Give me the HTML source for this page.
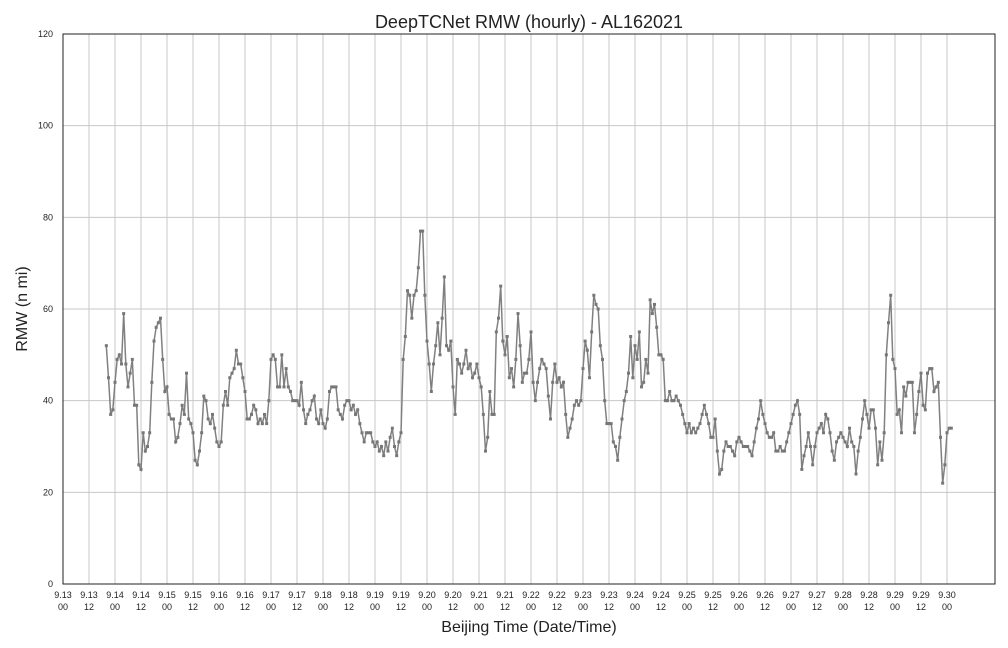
<!DOCTYPE html>
<html><head><meta charset="utf-8"><style>
html,body{margin:0;padding:0;background:#fff;}
svg{display:block;font-family:"Liberation Sans",sans-serif;}
</style></head><body>
<svg id="chart" width="1008" height="648">
<rect x="0" y="0" width="1008" height="648" fill="#fff"/>
<text x="529" y="28" font-size="18" text-anchor="middle" fill="#222">DeepTCNet RMW (hourly) - AL162021</text>
<text x="529" y="632" font-size="16" text-anchor="middle" fill="#222">Beijing Time (Date/Time)</text>
<text transform="translate(27,309) rotate(-90)" font-size="16" text-anchor="middle" fill="#222">RMW (n mi)</text>
<g id="grid"></g>
<g id="ticks"></g>
<g id="series"></g>
<rect x="63" y="34" width="932" height="550" fill="none" stroke="#222" stroke-width="1"/>
</svg>
<script>
const startHour = 20; // hours after 9.13 00:00
const rmwValues = [52,45,37,38,
44,49,50,48,59,48,43,46,49,39,39,26,
25,33,29,30,33,44,53,56,57,58,49,42,
43,37,36,36,31,32,35,39,37,46,36,35,
33,27,26,29,33,41,40,36,35,37,34,31,
30,31,39,42,39,45,46,47,51,48,48,45,
42,36,36,37,39,38,35,36,35,37,35,40,
49,50,49,43,43,50,43,47,43,42,40,40,
40,39,44,38,35,37,38,40,41,36,35,38,
35,34,36,42,43,43,43,38,37,36,39,40,
40,38,39,37,38,35,33,31,33,33,33,31,
30,31,29,30,28,31,29,32,34,30,28,31,
33,49,54,64,63,58,63,64,69,77,77,63,
53,48,42,48,52,57,50,58,67,52,51,53,
43,37,49,48,46,48,51,47,48,45,46,48,
45,43,37,29,32,42,37,37,55,58,65,53,
50,54,45,47,43,49,59,52,44,46,46,49,
55,44,40,44,47,49,48,47,41,36,44,48,
44,45,43,44,37,32,34,36,39,40,39,40,
47,53,51,45,55,63,61,60,52,49,40,35,
35,35,31,30,27,32,36,40,42,46,54,45,
52,49,55,43,44,49,46,62,59,61,56,50,
50,49,40,40,42,40,40,41,40,39,37,35,
33,35,33,34,33,34,35,37,39,37,35,32,
32,36,29,24,25,29,31,30,30,29,28,31,
32,31,30,30,30,29,28,31,34,36,40,37,
35,33,32,32,33,29,29,30,29,29,31,33,
35,37,39,40,37,25,28,30,33,30,26,30,
33,34,35,33,37,36,33,29,27,31,32,33,
32,31,30,34,31,30,24,29,32,36,40,37,
34,38,38,34,26,31,27,33,50,57,63,49,
47,37,38,33,43,41,44,44,44,33,37,42,
46,39,38,46,47,47,42,43,44,32,22,26,
33,34,34];
const yTicks = [0,20,40,60,80,100,120];
const xTickDays = [13,14,15,16,17,18,19,20,21,22,23,24,25,26,27,28,29,30];
const xTickHours = ["00","12"];

const NS="http://www.w3.org/2000/svg";
const X0=63, PXH=884/408, Y0=584, PXU=550/120;
function xs(h){return X0+h*PXH;}
function ys(v){return Y0-v*PXU;}
function mk(tag,attrs,parent){const e=document.createElementNS(NS,tag);for(const k in attrs)e.setAttribute(k,attrs[k]);parent.appendChild(e);return e;}
const grid=document.getElementById('grid'), ticks=document.getElementById('ticks'), series=document.getElementById('series');

yTicks.forEach(v=>{
  const l=mk('line',{x1:63,x2:995,y1:ys(v),y2:ys(v),stroke:'#c8c8c8','stroke-width':1},grid);
  
  
  const t=mk('text',{x:53,y:ys(v)+3,'font-size':9,'text-anchor':'end',fill:'#222'},ticks);
  t.textContent=v;
  
  
});
xTickDays.forEach((d,di)=>{
  xTickHours.forEach((hh,hi)=>{
    const h=di*24+hi*12;
    if(h>408) return;
    const x=xs(h);
    const l=mk('line',{x1:x,x2:x,y1:34,y2:584,stroke:'#c8c8c8','stroke-width':1},grid);
    
    
    const t=mk('text',{x:x,y:598,'font-size':9,'text-anchor':'middle',fill:'#222'},ticks);
    t.textContent='9.'+d;
    
    
    const t2=mk('text',{x:x,y:610,'font-size':9,'text-anchor':'middle',fill:'#222'},ticks);
    t2.textContent=hh;
    
    
  });
});
const pts=rmwValues.map((v,i)=>xs(startHour+i).toFixed(1)+','+ys(v).toFixed(1)).join(' ');
const pl=mk('polyline',{points:pts,fill:'none',stroke:'#808080','stroke-width':1.5},series);


rmwValues.forEach((v,i)=>{
  const r=mk('rect',{x:xs(startHour+i)-1.5,y:ys(v)-1.5,width:3,height:3,fill:'#777'},series);
  
  
});
</script>
</body></html>
